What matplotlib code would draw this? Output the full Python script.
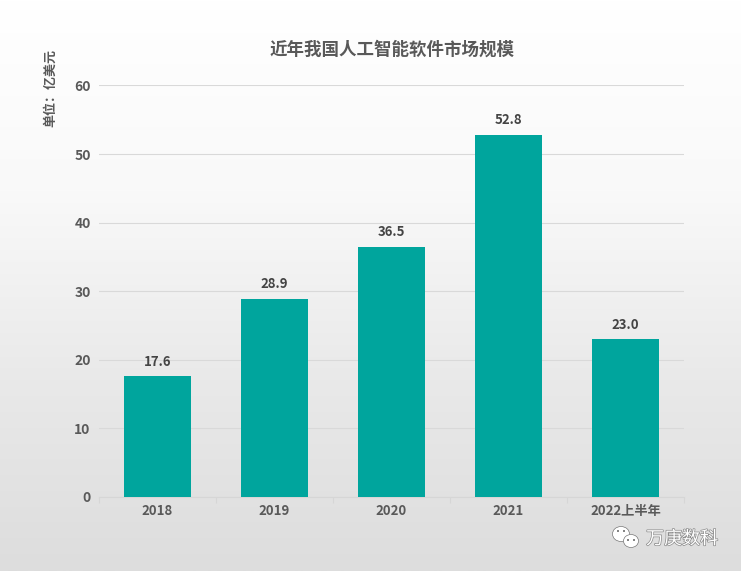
import numpy as np
import matplotlib
matplotlib.use('Agg')
import matplotlib.pyplot as plt
from matplotlib.patches import Ellipse, Circle
import matplotlib.patheffects as pe

plt.rcParams['font.family'] = ['Noto Sans CJK SC', 'DejaVu Sans']

categories = ['2018', '2019', '2020', '2021', '2022上半年']
values = [17.6, 28.9, 36.5, 52.8, 23.0]
yticks = [0, 10, 20, 30, 40, 50, 60]

W, H = 741, 571
fig = plt.figure(figsize=(W / 100, H / 100), dpi=100)

# background gradient
bg = fig.add_axes([0, 0, 1, 1], zorder=0)
grad = np.linspace(0, 1, 256).reshape(-1, 1)
cmap = matplotlib.colors.LinearSegmentedColormap.from_list('bg', ['#ffffff', '#f9f9f9', '#e9e9e9', '#dddddd'])
bg.imshow(grad, aspect='auto', cmap=cmap, extent=[0, W, H, 0], vmin=0, vmax=1)
bg.set_xlim(0, W)
bg.set_ylim(H, 0)
bg.axis('off')

ax = fig.add_axes([99 / W, 1 - 497 / H, 585 / W, 411.5 / H], zorder=1)
ax.patch.set_alpha(0)
x = np.arange(len(categories))
ax.bar(x, values, width=0.573, color='#00a59d', zorder=3)
for i, v in zip(x, values):
    ax.annotate('%.1f' % v, (i, v), xytext=(0, 5.5), textcoords='offset points',
                ha='center', va='bottom', fontsize=9.5, fontweight='bold', color='#444444')

ax.set_xlim(-0.5, 4.5)
ax.set_ylim(0, 60)
ax.set_yticks(yticks)
ax.set_xticks(x)
ax.set_xticklabels(categories)
ax.set_xticks(np.arange(-0.5, 5), minor=True)
ax.tick_params(axis='x', which='major', length=0, pad=5, labelsize=9.5, labelcolor='#595959')
ax.tick_params(axis='x', which='minor', length=4.5, width=0.8, color='#d6d6d6')
ax.tick_params(axis='y', length=0, pad=6, labelsize=10, labelcolor='#595959')
for lab in ax.get_xticklabels() + ax.get_yticklabels():
    lab.set_fontweight('bold')
ax.grid(axis='y', color='#d9d9d9', linewidth=0.8, zorder=0)
ax.set_axisbelow(True)
for s in ['top', 'right', 'left']:
    ax.spines[s].set_visible(False)
ax.spines['bottom'].set_color('#d6d6d6')
ax.spines['bottom'].set_linewidth(0.8)

fig.text(392 / W, 1 - 50 / H, '近年我国人工智能软件市场规模', ha='center', va='center',
         fontsize=12.6, fontweight='bold', color='#595959')
fig.text(50 / W, 1 - 88 / H, '单位：亿美元', rotation=90, ha='center', va='center',
         fontsize=9.4, fontweight='bold', color='#595959')

# watermark
ol = [pe.withStroke(linewidth=1, foreground='#8a8a8a')]
for cx, cy, w, h in [(621, 534, 17, 15), (631, 541, 15, 13)]:
    bg.add_patch(Ellipse((cx, cy), w, h, facecolor='white', edgecolor='#777777', linewidth=0.5, zorder=5))
for ex, ey in [(618, 531), (624, 531), (628, 540), (634, 540)]:
    bg.add_patch(Circle((ex, ey), 1, facecolor='#666666', edgecolor='none', zorder=6))
fig.text(682 / W, 1 - 539 / H, '万庚数科', ha='center', va='center', fontsize=13,
         color='white', zorder=6, path_effects=ol)

fig.savefig('out.png', dpi=100)
